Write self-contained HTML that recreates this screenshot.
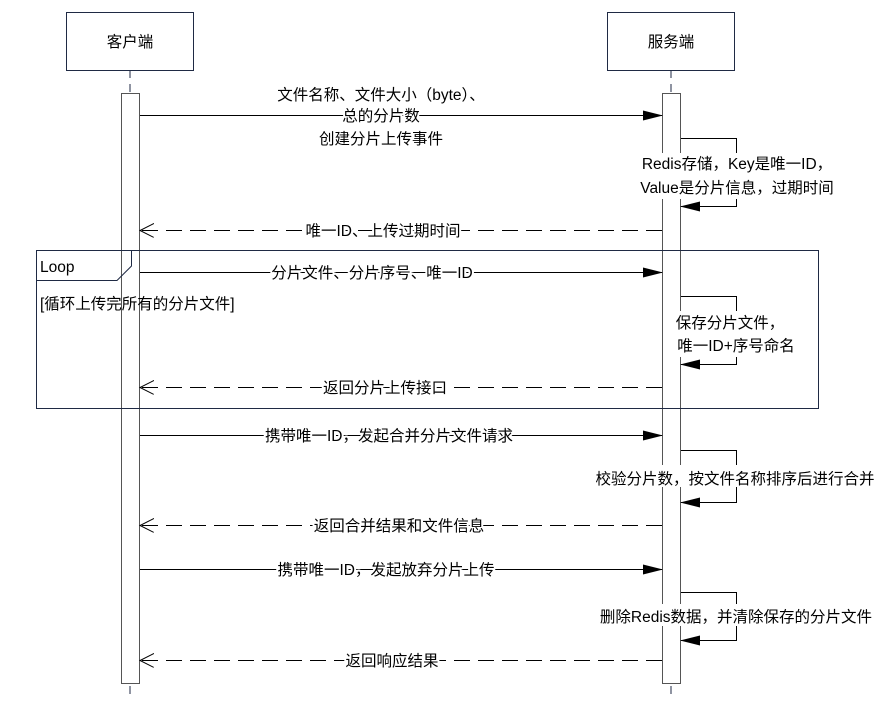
<!DOCTYPE html>
<html><head><meta charset="utf-8"><style>
body{margin:0;background:#fff}
text{font-family:"Liberation Sans","Noto Sans CJK SC",sans-serif;font-size:15.5px;fill:#000}
.h{stroke:#fff;stroke-width:4px;paint-order:stroke;stroke-linejoin:round}
</style></head><body>
<svg width="893" height="701" viewBox="0 0 893 701" xmlns="http://www.w3.org/2000/svg">
<defs>
<marker id="f" markerWidth="20" markerHeight="10" refX="19" refY="5" orient="auto" markerUnits="userSpaceOnUse"><path d="M0,0 L20,5 L0,10 Z" fill="#000"/></marker>
<marker id="o" markerWidth="16" markerHeight="16" refX="14" refY="7" orient="auto" markerUnits="userSpaceOnUse"><path d="M0,0 L14,7 L0,14" fill="none" stroke="#000"/></marker>
</defs>
<g stroke="#1f2a44" fill="#fff">
<rect x="66.5" y="12.5" width="127" height="58"/>
<rect x="607.5" y="12.5" width="127" height="58"/>
</g>
<line x1="130" y1="70" x2="130" y2="700" stroke="#1f2a44" stroke-dasharray="8,6"/>
<line x1="671" y1="70" x2="671" y2="700" stroke="#1f2a44" stroke-dasharray="8,6"/>
<text x="130" y="47" text-anchor="middle">客户端</text>
<text x="671" y="47" text-anchor="middle">服务端</text>
<rect x="121.5" y="93.5" width="18" height="590" fill="#fff" stroke="#555"/>
<rect x="662.5" y="93.5" width="18" height="590" fill="#fff" stroke="#555"/>
<rect x="36.5" y="250.5" width="782" height="158" fill="none" stroke="#1f2a44"/>
<path d="M36.5,280.5 H117 L131.5,266 V250.5" fill="none" stroke="#1f2a44"/>
<text x="40" y="272">Loop</text>
<text x="40" y="309">[循环上传完所有的分片文件]</text>
<g stroke="#000" fill="none">
<line x1="140" y1="115.5" x2="662" y2="115.5" marker-end="url(#f)"/>
<line x1="140" y1="272.5" x2="662" y2="272.5" marker-end="url(#f)"/>
<line x1="140" y1="435.5" x2="662" y2="435.5" marker-end="url(#f)"/>
<line x1="140" y1="569.5" x2="662" y2="569.5" marker-end="url(#f)"/>
<g stroke-dasharray="16,8">
<line x1="662" y1="230.5" x2="140" y2="230.5" marker-end="url(#o)"/>
<line x1="662" y1="387.5" x2="140" y2="387.5" marker-end="url(#o)"/>
<line x1="662" y1="525.5" x2="140" y2="525.5" marker-end="url(#o)"/>
<line x1="662" y1="660.5" x2="140" y2="660.5" marker-end="url(#o)"/>
</g>
<path d="M681,138.5 H736.5 V206.5 H681" marker-end="url(#f)"/>
<path d="M681,296.5 H736.5 V364.5 H681" marker-end="url(#f)"/>
<path d="M681,450.5 H736.5 V502.5 H681" marker-end="url(#f)"/>
<path d="M681,592.5 H736.5 V640.5 H681" marker-end="url(#f)"/>
</g>
<g fill="#fff">
<rect x="639" y="153" width="197" height="46"/>
<rect x="680" y="311" width="118" height="46"/>
<rect x="592" y="465" width="286" height="22"/>
<rect x="598" y="604" width="276" height="22"/>
</g>
<g text-anchor="middle" class="h">
<text x="381" y="100">文件名称、文件大小（byte）、</text>
<text x="381" y="121">总的分片数</text>
<text x="381" y="144">创建分片上传事件</text>
<text x="737" y="169">Redis存储，Key是唯一ID，</text>
<text x="737" y="193">Value是分片信息，过期时间</text>
<text x="383" y="236">唯一ID、上传过期时间</text>
<text x="372" y="278">分片文件、分片序号、唯一ID</text>
<text x="730" y="328">保存分片文件，</text>
<text x="736" y="351">唯一ID+序号命名</text>
<text x="385" y="393">返回分片上传接口</text>
<text x="389" y="441">携带唯一ID，发起合并分片文件请求</text>
<text x="735" y="484">校验分片数，按文件名称排序后进行合并</text>
<text x="399" y="531">返回合并结果和文件信息</text>
<text x="386" y="575">携带唯一ID，发起放弃分片上传</text>
<text x="736" y="622">删除Redis数据，并清除保存的分片文件</text>
<text x="392" y="666">返回响应结果</text>
</g>
</svg>
</body></html>
